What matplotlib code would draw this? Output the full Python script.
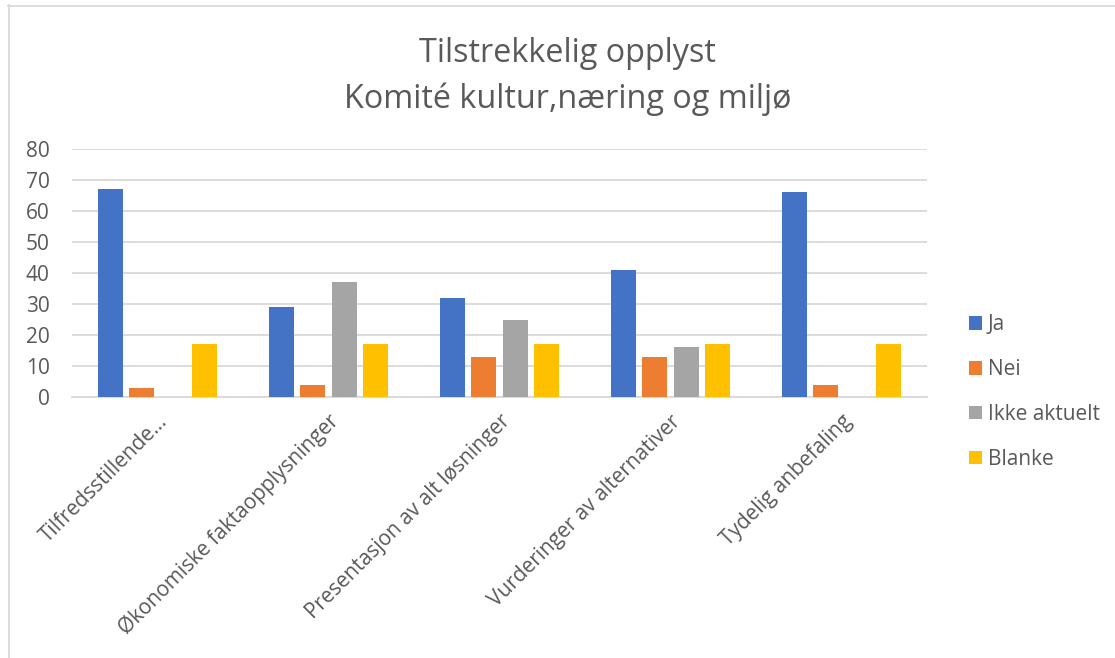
import matplotlib
matplotlib.use('Agg')
import matplotlib.pyplot as plt
import numpy as np
from matplotlib.lines import Line2D

plt.rcParams['font.family'] = ['Open Sans', 'DejaVu Sans']

# data
kategorier = ['Tilfredsstillende...', 'Økonomiske faktaopplysninger', 'Presentasjon av alt løsninger',
              'Vurderinger av alternativer', 'Tydelig anbefaling']
ja = [67, 29, 32, 41, 66]
nei = [3, 4, 13, 13, 4]
ikke_aktuelt = [0, 37, 25, 16, 0]
blanke = [17, 17, 17, 17, 17]

serier = ['Ja', 'Nei', 'Ikke aktuelt', 'Blanke']
farger = ['#4472C4', '#ED7D31', '#A5A5A5', '#FFC000']
tekstfarge = '#595959'

fig = plt.figure(figsize=(11.15, 6.58), dpi=100)
ax = fig.add_axes([72/1115, 1-397/658, (927-72)/1115, (397-149)/658])

x = np.arange(len(kategorier))
steg = 0.183
bredde = 0.145
for i, (navn, verdier) in enumerate(zip(serier, [ja, nei, ikke_aktuelt, blanke])):
    ax.bar(x + (i - 1.5)*steg, verdier, bredde, color=farger[i], label=navn, zorder=3)

ax.set_xlim(-0.5, len(kategorier) - 0.5)
ax.set_ylim(0, 80)
ax.set_yticks(range(0, 81, 10))
ax.yaxis.grid(True, color='#d9d9d9', linewidth=1.3, zorder=0)
for s in ['top', 'right', 'left']:
    ax.spines[s].set_visible(False)
ax.spines['bottom'].set_color('#d9d9d9')
ax.spines['bottom'].set_linewidth(1.3)
ax.tick_params(axis='y', length=0, pad=16, labelsize=15, labelcolor=tekstfarge)
ax.tick_params(axis='x', length=0, pad=10, labelsize=15, labelcolor=tekstfarge)
ax.set_xticks(x)
ax.set_xticklabels(kategorier, rotation=45, ha='right', va='top', rotation_mode='anchor')

fig.text(567.5/1115, 1-62/658, 'Tilstrekkelig opplyst', ha='center', va='baseline',
         fontsize=23.3, color=tekstfarge)
fig.text(567.5/1115, 1-108/658, 'Komité kultur,næring og miljø', ha='center', va='baseline',
         fontsize=23.3, color=tekstfarge)

fig.legend(loc='center left', bbox_to_anchor=(950/1115, 1-392/658), frameon=False, fontsize=15,
           handlelength=0.62, handleheight=0.62, handletextpad=0.3, labelspacing=1.14, labelcolor=tekstfarge)

# chart border
fig.add_artist(Line2D([8/1115, 1], [1-5.5/658]*2, color='#d9d9d9', linewidth=1.3, transform=fig.transFigure))
fig.add_artist(Line2D([8.5/1115]*2, [0, 1-5/658], color='#d9d9d9', linewidth=1.3, transform=fig.transFigure))

fig.savefig('out.png', dpi=100)
